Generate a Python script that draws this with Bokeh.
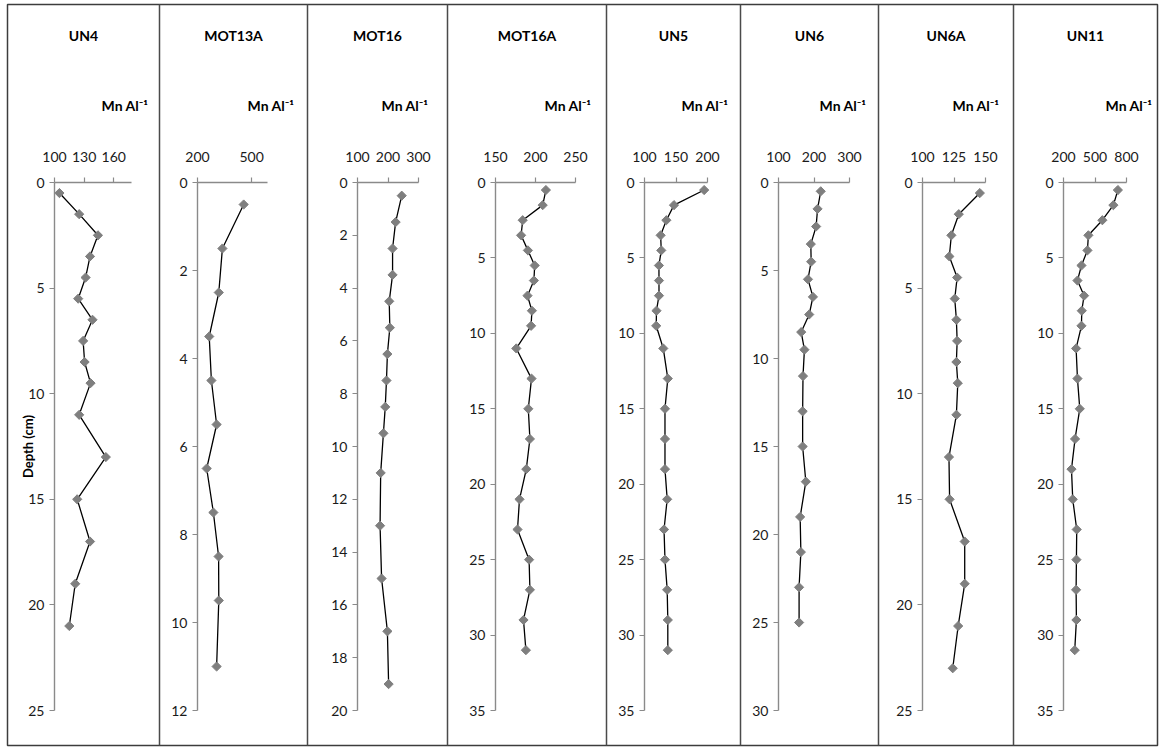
import math
from bokeh.plotting import figure
from bokeh.models import Range1d, LinearAxis, FixedTicker, ColumnDataSource
from bokeh.core.properties import value
from bokeh.embed import file_html
from bokeh.resources import INLINE

# ---------------- data ----------------
cores = ["UN4", "MOT13A", "MOT16", "MOT16A", "UN5", "UN6", "UN6A", "UN11"]

depth_UN4 = [0.5, 1.5, 2.5, 3.5, 4.5, 5.5, 6.5, 7.5, 8.5, 9.5, 11, 13, 15, 17, 19, 21]
mnal_UN4 = [105, 125, 144, 136, 131.5, 124, 138.5, 129, 130.5, 136.5, 125, 152, 123, 136, 121, 115]

depth_MOT13A = [0.5, 1.5, 2.5, 3.5, 4.5, 5.5, 6.5, 7.5, 8.5, 9.5, 11]
mnal_MOT13A = [456, 338, 318, 265, 277, 306, 251, 288, 317, 318, 306]

depth_MOT16 = [0.5, 1.5, 2.5, 3.5, 4.5, 5.5, 6.5, 7.5, 8.5, 9.5, 11, 13, 15, 17, 19]
mnal_MOT16 = [245, 225, 215, 215, 204, 206, 198, 195, 191, 185, 176, 174, 179, 198, 202]

depth_MOT16A = [0.5, 1.5, 2.5, 3.5, 4.5, 5.5, 6.5, 7.5, 8.5, 9.5, 11, 13, 15, 17, 19, 21, 23, 25, 27, 29, 31]
mnal_MOT16A = [213, 209, 184, 182, 190.5, 199, 198, 190, 195.5, 194.5, 176, 195, 191, 193, 188.5, 180, 177.5, 192, 193, 185, 188]

depth_UN5 = [0.5, 1.5, 2.5, 3.5, 4.5, 5.5, 6.5, 7.5, 8.5, 9.5, 11, 13, 15, 17, 19, 21, 23, 25, 27, 29, 31]
mnal_UN5 = [194.7, 146.8, 134.7, 125.6, 126.6, 122.9, 123, 123, 119, 118.6, 129.8, 137, 132.5, 132.5, 132.5, 136, 131, 132.5, 136, 137, 137]

depth_UN6 = [0.5, 1.5, 2.5, 3.5, 4.5, 5.5, 6.5, 7.5, 8.5, 9.5, 11, 13, 15, 17, 19, 21, 23, 25]
mnal_UN6 = [219, 210, 206, 191, 192, 183, 197, 186.5, 164, 173, 169, 168, 168, 177, 161, 163, 158, 158]

depth_UN6A = [0.5, 1.5, 2.5, 3.5, 4.5, 5.5, 6.5, 7.5, 8.5, 9.5, 11, 13, 15, 17, 19, 21, 23]
mnal_UN6A = [145.5, 128.8, 122.9, 121.3, 127.5, 125.6, 126.9, 127.5, 126.9, 128, 126.9, 121, 121.5, 133.5, 133.5, 128.3, 124]

depth_UN11 = [0.5, 1.5, 2.5, 3.5, 4.5, 5.5, 6.5, 7.5, 8.5, 9.5, 11, 13, 15, 17, 19, 21, 23, 25, 27, 29, 31]
mnal_UN11 = [718, 675, 570, 437, 428, 371, 333, 396, 374, 371, 320, 333, 355, 310, 276, 288, 326, 323, 320, 323, 307]

depths = [depth_UN4, depth_MOT13A, depth_MOT16, depth_MOT16A, depth_UN5, depth_UN6, depth_UN6A, depth_UN11]
mnals = [mnal_UN4, mnal_MOT13A, mnal_MOT16, mnal_MOT16A, mnal_UN5, mnal_UN6, mnal_UN6A, mnal_UN11]

x_ticks = [[100, 130, 160], [200, 500], [100, 200, 300], [150, 200, 250],
           [100, 150, 200], [100, 200, 300], [100, 125, 150], [200, 500, 800]]
x_limits = [(100, 178), (200, 588), (100, 300), (150, 250),
            (100, 200), (100, 300), (100, 150), (200, 800)]
depth_max = [25, 12, 20, 35, 35, 30, 25, 35]
depth_step = [5, 2, 2, 5, 5, 5, 5, 5]
x_label = "Mn Al\u207b\u00b9"
y_label = "Depth (cm)"

# ---------------- layout (canvas pixels) ----------------
W, H = 1160, 747
X0, X1 = 0, W
Y0, Y1 = 0, H
border = (7, 1157, 4, 745)          # left, right, top, bottom of outer frame
dividers = [159, 307, 447, 606, 740, 878, 1013]
edges = [border[0]] + dividers + [border[1]]
axis_left = [54, 197, 357, 495, 644, 778, 922, 1063]
axis_right = [131, 267, 418, 575, 707, 849, 985, 1126]
label_right = [148, 294, 428, 591, 728, 866, 999, 1152]
TOP, BOT = 182, 710
FONT = "Lato"

extra_x = {}
extra_y = {}
for i in range(len(cores)):
    xmin, xmax = x_limits[i]
    a = (xmax - xmin) / (axis_right[i] - axis_left[i])
    extra_x[f"x{i}"] = Range1d(xmin + (X0 - axis_left[i]) * a, xmin + (X1 - axis_left[i]) * a)
    b = depth_max[i] / (BOT - TOP)
    extra_y[f"y{i}"] = Range1d((Y1 - TOP) * b, (Y0 - TOP) * b)

p = figure(width=W, height=H, output_backend="svg", toolbar_location=None,
           x_axis_location=None, y_axis_location=None,
           x_range=Range1d(X0, X1), y_range=Range1d(Y1, Y0),
           min_border=0, min_border_left=0, min_border_right=0,
           min_border_top=0, min_border_bottom=0)
p.extra_x_ranges = extra_x
p.extra_y_ranges = extra_y
p.xgrid.visible = False
p.ygrid.visible = False
p.background_fill_color = "white"
p.border_fill_color = "white"
p.outline_line_color = None

# outer frame and panel dividers
p.quad(left=[border[0]], right=[border[1]], top=[border[2]], bottom=[border[3]],
       fill_alpha=0, line_color="#3c3c3c", line_width=1.5)
p.segment(x0=dividers, y0=[border[2]] * len(dividers), x1=dividers,
          y1=[border[3]] * len(dividers), line_color="#4a4a4a", line_width=1.5)

for i, name in enumerate(cores):
    xr, yr = f"x{i}", f"y{i}"
    xmin, xmax = x_limits[i]
    xa = LinearAxis(x_range_name=xr, y_range_name=yr, fixed_location=0,
                    bounds=(xmin, xmax), ticker=FixedTicker(ticks=x_ticks[i]))
    ya = LinearAxis(x_range_name=xr, y_range_name=yr, fixed_location=xmin,
                    bounds=(0, depth_max[i]),
                    ticker=FixedTicker(ticks=list(range(0, depth_max[i] + 1, depth_step[i]))))
    for ax, tick_out, standoff in ((xa, 5, 16), (ya, 5, 5)):
        ax.axis_line_color = "#8a8a8a"
        ax.axis_line_width = 1.4
        ax.major_tick_line_color = "#8a8a8a"
        ax.major_tick_line_width = 1.2
        ax.major_tick_out = tick_out
        ax.major_tick_in = 0
        ax.minor_tick_out = 0
        ax.minor_tick_in = 0
        ax.major_label_text_font = FONT
        ax.major_label_text_font_size = "14px"
        ax.major_label_text_color = "#1a1a1a"
        ax.major_label_standoff = standoff
    p.add_layout(xa, "above")
    p.add_layout(ya, "left")

    p.line(x=mnals[i], y=depths[i], x_range_name=xr, y_range_name=yr,
           line_color="black", line_width=1.3)
    p.scatter(x=mnals[i], y=depths[i], x_range_name=xr, y_range_name=yr,
              marker="square", angle=math.pi / 4, size=6.5,
              fill_color="#7f7f7f", line_color="#7f7f7f")

# titles
title_src = ColumnDataSource(dict(
    x=[(edges[i] + edges[i + 1]) / 2 for i in range(len(cores))],
    y=[35] * len(cores), text=cores))
p.text(x="x", y="y", text="text", source=title_src, text_font=value(FONT),
       text_font_style="bold", text_font_size="14px", text_align="center",
       text_baseline="middle", text_color="black")

unit_src = ColumnDataSource(dict(x=label_right, y=[105] * len(cores),
                                 text=[x_label] * len(cores)))
p.text(x="x", y="y", text="text", source=unit_src, text_font=value(FONT),
       text_font_style="bold", text_font_size="14px", text_align="right",
       text_baseline="middle", text_color="black")

p.text(x=[27], y=[(TOP + BOT) / 2], text=[y_label], angle=math.pi / 2,
       text_font=value(FONT), text_font_style="bold", text_font_size="13px",
       text_align="center", text_baseline="middle", text_color="black")

open("out.html", "w").write(file_html(p, INLINE))
